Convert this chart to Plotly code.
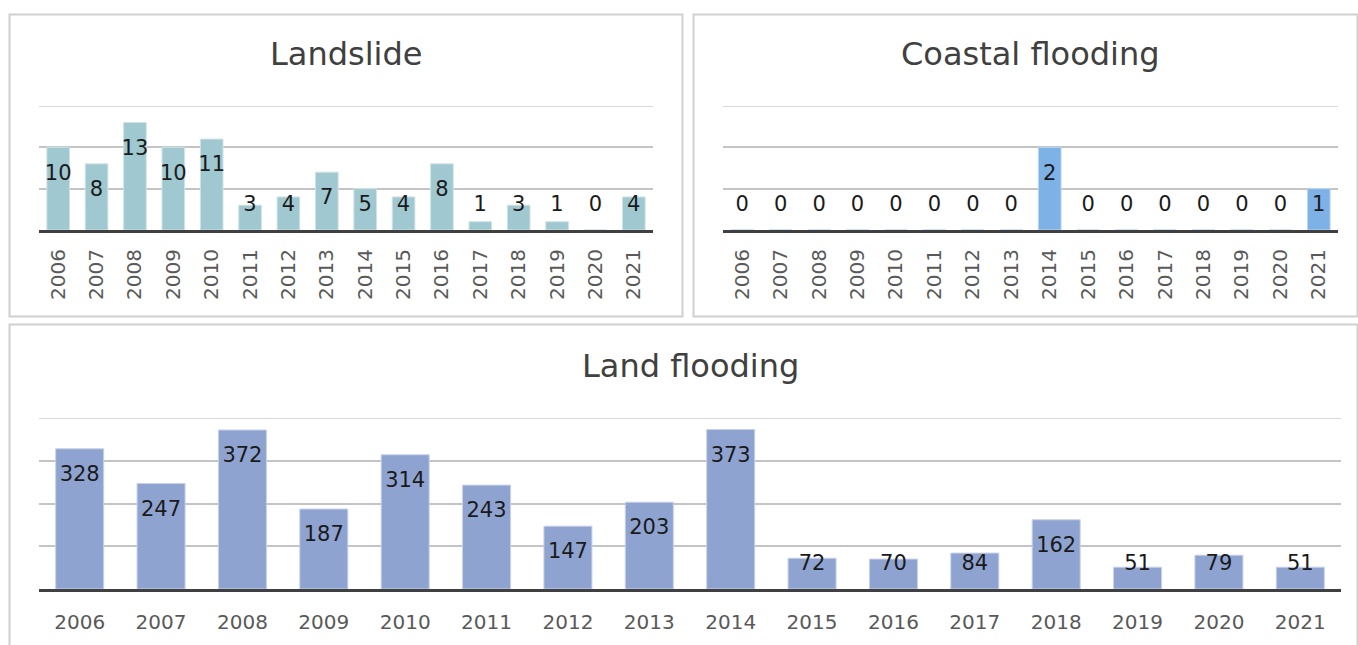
import plotly.graph_objects as go

W, H = 1358, 645

years = [str(y) for y in range(2006, 2022)]
landslide = [10, 8, 13, 10, 11, 3, 4, 7, 5, 4, 8, 1, 3, 1, 0, 4]
coastal = [0, 0, 0, 0, 0, 0, 0, 0, 2, 0, 0, 0, 0, 0, 0, 1]
land_flooding = [328, 247, 372, 187, 314, 243, 147, 203, 373, 72, 70, 84, 162, 51, 79, 51]

FONT = "DejaVu Sans"
TITLE_COLOR = "#404040"
TICK_COLOR = "#595959"
LABEL_COLOR = "#1a1a1a"


def px_x(p):
    return p / W


def px_y(p):
    return 1 - p / H


panels = [
    dict(vals=landslide, color="#a0c8d0", line="#cfe3e7", ax="", xd=(39, 653), yd=(106, 230),
         ymax=15, dtick=5, title="Landslide", tpos=(346, 54), angle=-90, standoff=8),
    dict(vals=coastal, color="#7eb1e6", line="#bcd7f3", ax="2", xd=(723, 1338), yd=(106, 230),
         ymax=3, dtick=1, title="Coastal flooding", tpos=(1030, 54), angle=-90, standoff=8),
    dict(vals=land_flooding, color="#8fa3d1", line="#c7d1ea", ax="3", xd=(39, 1341), yd=(418, 589),
         ymax=400, dtick=100, title="Land flooding", tpos=(690, 366), angle=0, standoff=13),
]

fig = go.Figure()
annotations = []
shapes = []
layout_axes = {}

for p in panels:
    xa = "x" + p["ax"]
    ya = "y" + p["ax"]
    top_px, base_px = p["yd"]
    # pixels per data unit, used to keep labels inside the bar end
    ppu = (base_px - top_px) / p["ymax"]
    off = 27 / ppu
    floor = 24 / ppu
    label_y = [max(v - off, floor) for v in p["vals"]]
    inner_ticks = [p["dtick"] * k for k in range(1, int(p["ymax"] / p["dtick"]))]

    fig.add_trace(go.Bar(
        x=years, y=p["vals"], xaxis=xa, yaxis=ya,
        marker=dict(color=p["color"], line=dict(color=p["line"], width=1)),
        hoverinfo="x+y", showlegend=False,
    ))
    fig.add_trace(go.Scatter(
        x=years, y=label_y, xaxis=xa, yaxis=ya, mode="text",
        text=[str(v) for v in p["vals"]], textposition="middle center",
        textfont=dict(family=FONT, size=21, color=LABEL_COLOR),
        hoverinfo="skip", showlegend=False, cliponaxis=False,
    ))

    layout_axes["xaxis" + p["ax"]] = dict(
        domain=[px_x(p["xd"][0]), px_x(p["xd"][1])],
        anchor=ya, type="category", range=[-0.5, len(years) - 0.5],
        showline=True, linecolor="#404040", linewidth=3,
        showgrid=False, ticks="", tickangle=p["angle"],
        ticklabelstandoff=p["standoff"],
        tickfont=dict(family=FONT, size=20, color=TICK_COLOR),
        fixedrange=True,
    )
    layout_axes["yaxis" + p["ax"]] = dict(
        domain=[px_y(base_px), px_y(top_px)],
        anchor=xa, range=[0, p["ymax"]],
        tickmode="array", tickvals=inner_ticks,
        showgrid=True, gridcolor="#c4c4c4", gridwidth=1.5,
        zeroline=False, showticklabels=False, ticks="",
        fixedrange=True,
    )
    # lighter top gridline at the axis maximum
    shapes.append(dict(
        type="line", xref=xa + " domain", yref=ya,
        x0=0, x1=1, y0=p["ymax"], y1=p["ymax"],
        line=dict(color="#d9d9d9", width=2), layer="below",
    ))
    annotations.append(dict(
        x=px_x(p["tpos"][0]), y=px_y(p["tpos"][1]), xref="paper", yref="paper",
        text=p["title"], showarrow=False, xanchor="center", yanchor="middle",
        font=dict(family=FONT, size=32, color=TITLE_COLOR),
    ))

# panel frames
frames = [(9.5, 14.5, 682.5, 316.5), (693.5, 14.5, 1357.5, 316.5), (9.5, 324.5, 1357.5, 700)]
shapes += [
    dict(type="rect", xref="paper", yref="paper",
         x0=px_x(a), x1=px_x(c), y0=px_y(d), y1=px_y(b),
         line=dict(color="#d0d0d0", width=2), fillcolor="rgba(0,0,0,0)", layer="below")
    for a, b, c, d in frames
]

fig.update_layout(
    width=W, height=H,
    margin=dict(l=0, r=0, t=0, b=0),
    paper_bgcolor="white", plot_bgcolor="white",
    bargap=0.41,
    annotations=annotations,
    shapes=shapes,
    font=dict(family=FONT),
    **layout_axes,
)

fig.write_html("out.html", config={"displayModeBar": False})
